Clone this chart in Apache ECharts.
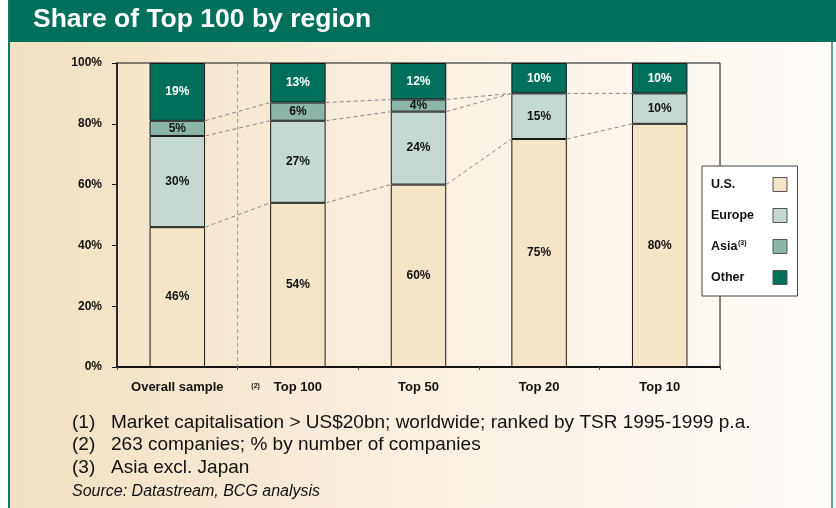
<!DOCTYPE html>
<html>
<head>
<meta charset="utf-8">
<script src="https://cdn.jsdelivr.net/npm/echarts@6/dist/echarts.min.js"></script>
<style>
  html, body { margin: 0; padding: 0; background: #fff; }
  #main { width: 836px; height: 508px; }
</style>
</head>
<body>
<div id="main"></div>
<script>
// categories & values (% share by region)
const categories = ['Overall sample', 'Top 100', 'Top 50', 'Top 20', 'Top 10'];
const usShare     = [46, 54, 60, 75, 80];
const europeShare = [30, 27, 24, 15, 10];
const asiaShare   = [5, 6, 4, 0, 0];
const otherShare  = [19, 13, 12, 10, 10];
const footnotes = [
  ['(1)', 'Market capitalisation > US$20bn; worldwide; ranked by TSR 1995-1999 p.a.'],
  ['(2)', '263 companies; % by number of companies'],
  ['(3)', 'Asia excl. Japan']
];
const source = 'Source: Datastream, BCG analysis';

const FONT = '"Liberation Sans", Arial, Helvetica, sans-serif';
const BAR_W = 0.46; // fraction of band

// dashed connector lines between neighbouring bars, at each stack boundary
let connectors = [];
for (let i = 0; i < categories.length - 1; i++) {
  const a = [usShare[i], usShare[i] + europeShare[i], usShare[i] + europeShare[i] + asiaShare[i]];
  const b = [usShare[i + 1], usShare[i + 1] + europeShare[i + 1], usShare[i + 1] + europeShare[i + 1] + asiaShare[i + 1]];
  let seen = {};
  for (let k = 0; k < 3; k++) {
    const key = a[k] + '-' + b[k];
    if (seen[key]) continue;
    seen[key] = true;
    connectors.push([i, a[k], b[k]]);
  }
}

let chartDom = document.getElementById('main');
let myChart = echarts.init(chartDom, null, { renderer: 'canvas' });

function barSeries(name, data, color, labelColor) {
  return {
    name: name,
    type: 'bar',
    stack: 'share',
    data: data.map(v => v === 0 ? null : v),
    barWidth: (BAR_W * 100) + '%',
    itemStyle: { color: color, borderColor: '#1a1a1a', borderWidth: 1 },
    label: {
      show: true,
      position: 'inside',
      formatter: '{c}%',
      color: labelColor,
      fontFamily: FONT,
      fontWeight: 'bold',
      fontSize: 12
    },
    z: 3
  };
}

let option = {
  animation: false,
  textStyle: { fontFamily: FONT },
  graphic: [
    {
      type: 'rect', silent: true, z: -10,
      shape: { x: 8, y: 0, width: 828, height: 508 },
      style: {
        fill: new echarts.graphic.LinearGradient(0, 0, 1, 0, [
          { offset: 0, color: '#f2e1bf' },
          { offset: 0.55, color: '#faf1e4' },
          { offset: 1, color: '#fefcf9' }
        ])
      }
    },
    { type: 'rect', silent: true, z: -5, shape: { x: 8, y: 0, width: 828, height: 42 }, style: { fill: '#00705a' } },
    { type: 'rect', silent: true, z: -5, shape: { x: 8, y: 0, width: 2, height: 508 }, style: { fill: '#0f7a62' } },
    { type: 'rect', silent: true, z: -5, shape: { x: 831, y: 42, width: 2, height: 466 }, style: { fill: '#5da592' } },
    {
      type: 'text', left: 33, top: 6,
      style: { text: 'Share of Top 100 by region', fill: '#fff', font: 'bold 26.5px ' + FONT }
    },
    ...footnotes.flatMap((f, i) => [
      { type: 'text', left: 72, top: 413 + i * 22.5, style: { text: f[0], fill: '#111', font: '19px ' + FONT } },
      { type: 'text', left: 111, top: 413 + i * 22.5, style: { text: f[1], fill: '#111', font: '19px ' + FONT } }
    ]),
    { type: 'text', left: 72, top: 484, style: { text: source, fill: '#111', font: 'italic 16px ' + FONT } }
  ],
  grid: {
    left: 117, right: 116, top: 63, bottom: 141,
    show: true, borderColor: '#111', borderWidth: 1, backgroundColor: 'transparent'
  },
  legend: {
    orient: 'vertical',
    left: 702, top: 166,
    align: 'right',
    padding: [11, 10, 11, 9],
    itemGap: 16,
    itemWidth: 14, itemHeight: 14,
    icon: 'rect',
    backgroundColor: '#fff',
    borderColor: '#444', borderWidth: 1,
    data: ['U.S.', 'Europe', 'Asia', 'Other'],
    itemStyle: { borderColor: '#555', borderWidth: 1 },
    formatter: n => n === 'Asia' ? '{t|Asia}{sup|(3)}' : '{w|' + n + '}',
    textStyle: {
      color: '#111', fontFamily: FONT, fontWeight: 'bold', fontSize: 12.5,
      rich: {
        w: { width: 57, align: 'left', fontWeight: 'bold', fontSize: 12.5, color: '#111' },
        t: { width: 27, align: 'left', fontWeight: 'bold', fontSize: 12.5, color: '#111' },
        sup: { width: 30, align: 'left', fontSize: 7, fontWeight: 'bold', verticalAlign: 'top', padding: [0, 0, 7, 0], color: '#111' }
      }
    }
  },
  xAxis: {
    type: 'category',
    data: categories,
    boundaryGap: true,
    axisLine: { lineStyle: { color: '#111', width: 2 } },
    axisTick: { show: true, length: 3, lineStyle: { color: '#555' } },
    axisLabel: { color: '#111', fontWeight: 'bold', fontSize: 13, margin: 14, fontFamily: FONT }
  },
  yAxis: {
    type: 'value',
    min: 0, max: 100, interval: 20,
    axisLine: { show: true, lineStyle: { color: '#111', width: 1.5 } },
    axisTick: { show: true, length: 5, lineStyle: { color: '#111' } },
    splitLine: { show: false },
    axisLabel: { color: '#111', fontWeight: 'bold', fontSize: 12, margin: 15, formatter: '{value}%', fontFamily: FONT }
  },
  series: [
    barSeries('U.S.', usShare, '#f3e5c6', '#111'),
    barSeries('Europe', europeShare, '#c5d9d2', '#111'),
    barSeries('Asia', asiaShare, '#8ab5a8', '#111'),
    barSeries('Other', otherShare, '#00705a', '#fff'),
    {
      type: 'custom',
      name: 'connectors',
      data: connectors,
      encode: { x: 0, y: [1, 2] },
      z: 2,
      silent: true,
      renderItem: function (params, api) {
        const i = api.value(0);
        const half = api.size([1, 0])[0] * BAR_W / 2;
        const p1 = api.coord([i, api.value(1)]);
        const p2 = api.coord([i + 1, api.value(2)]);
        return {
          type: 'line',
          shape: { x1: p1[0] + half, y1: p1[1], x2: p2[0] - half, y2: p2[1] },
          style: { stroke: '#8a8a8a', lineWidth: 1, lineDash: [4, 3] }
        };
      }
    },
    {
      type: 'custom',
      name: 'separator',
      data: [[0, 0]],
      z: 2,
      silent: true,
      renderItem: function (params, api) {
        const a = api.coord([0, 0]);
        const b = api.coord([1, 100]);
        const x = (a[0] + b[0]) / 2;
        return {
          type: 'group',
          children: [
            {
              type: 'line',
              shape: { x1: x, y1: b[1], x2: x, y2: a[1] },
              style: { stroke: '#9a9a9a', lineWidth: 1, lineDash: [4, 3] }
            },
            {
              type: 'text',
              style: { text: '(2)', x: x + 18, y: a[1] + 19, align: 'center', verticalAlign: 'middle', font: 'bold 7px ' + FONT, fill: '#111' }
            }
          ]
        };
      }
    }
  ]
};

myChart.setOption(option);
</script>
</body>
</html>
